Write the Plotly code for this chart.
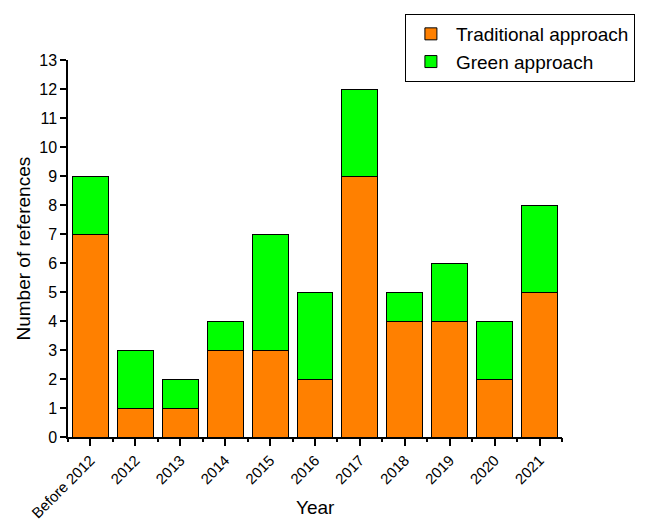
import plotly.graph_objects as go

years = ["Before 2012", "2012", "2013", "2014", "2015", "2016", "2017", "2018", "2019", "2020", "2021"]
traditional = [7, 1, 1, 3, 3, 2, 9, 4, 4, 2, 5]
green = [2, 2, 1, 1, 4, 3, 3, 1, 2, 2, 3]

fig = go.Figure()
fig.add_trace(go.Bar(x=years, y=traditional, name="Traditional approach",
                     marker=dict(color="#FF8000", line=dict(color="black", width=1)), width=0.8))
fig.add_trace(go.Bar(x=years, y=green, name="Green approach",
                     marker=dict(color="#00FF00", line=dict(color="black", width=1)), width=0.8))
# invisible trace for boundary ticks
fig.add_trace(go.Bar(x=years, y=[0]*len(years), xaxis="x2", showlegend=False,
                     marker=dict(color="rgba(0,0,0,0)"), hoverinfo="skip"))

font = "Liberation Sans, Arial, sans-serif"
fig.update_layout(
    barmode="stack",
    width=650, height=520,
    margin=dict(l=60, r=96, t=52, b=91, autoexpand=False),
    plot_bgcolor="white", paper_bgcolor="white",
    font=dict(family=font, color="black", size=16),
    bargap=0.2,
    xaxis=dict(
        automargin=False,
        showline=True, linecolor="black", linewidth=1.5,
        ticks="outside", ticklen=7, tickcolor="black", tickwidth=1.5,
        tickangle=-45, tickfont=dict(size=15),
        showgrid=False, range=[-0.5, 10.5],
    ),
    xaxis2=dict(
        overlaying="x", matches="x", showline=False, tickson="boundaries",
        ticks="outside", ticklen=4, tickcolor="black", tickwidth=1.5,
        showticklabels=False, showgrid=False, range=[-0.5, 10.5],
    ),
    yaxis=dict(
        automargin=False,
        range=[0, 13], dtick=1,
        showline=True, linecolor="black", linewidth=1.5,
        ticks="outside", ticklen=6, tickcolor="black", tickwidth=1.5,
        tickfont=dict(size=16), showgrid=False, zeroline=False,
    ),
    legend=dict(
        x=0.682, y=1.122, xanchor="left", yanchor="top",
        bordercolor="black", borderwidth=1, bgcolor="white",
        font=dict(size=19), traceorder="normal", tracegroupgap=0,
        itemwidth=40,
    ),
    annotations=[
        dict(text="Year", x=0.5, y=-0.188, xref="paper", yref="paper",
             xanchor="center", yanchor="middle", showarrow=False, font=dict(size=19)),
        dict(text="Number of references", x=-0.091, y=0.5, xref="paper", yref="paper",
             xanchor="center", yanchor="middle", showarrow=False, textangle=-90,
             font=dict(size=19)),
    ],
)
fig.write_html("out.html")
